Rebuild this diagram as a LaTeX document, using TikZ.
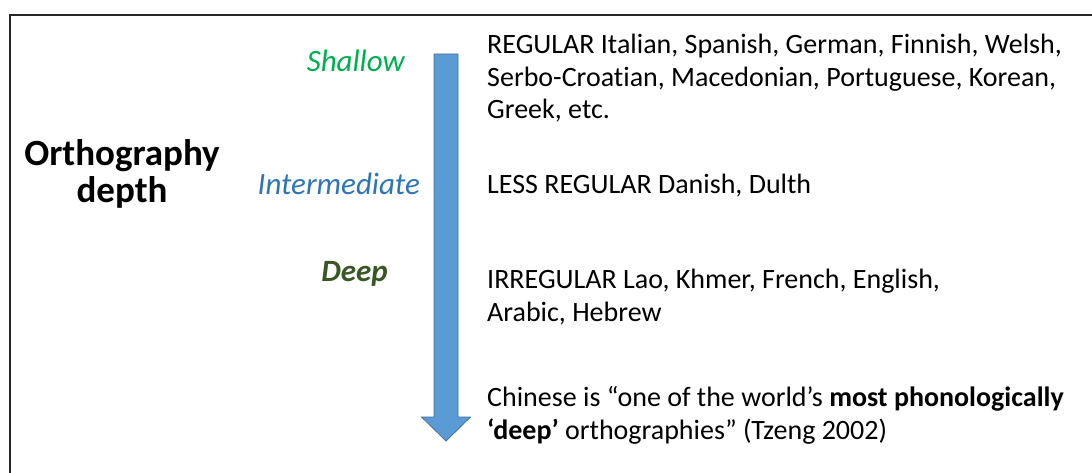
\documentclass[tikz,border=0pt]{standalone}
\usepackage{fontspec}
\setmainfont{Carlito}[RawFeature=-liga]
\definecolor{arrowfill}{HTML}{5B9BD5}
\definecolor{arrowedge}{HTML}{41719C}
\definecolor{shallowc}{HTML}{00B050}
\definecolor{interc}{HTML}{2E75B6}
\definecolor{deepc}{HTML}{385723}
\begin{document}
\begin{tikzpicture}[x=1pt,y=-1pt,
  body/.style={anchor=base west,inner sep=0pt,font=\fontsize{28}{33}\selectfont},
  level/.style={anchor=base east,inner sep=0pt,font=\fontsize{31}{37}\selectfont\itshape},
  heading/.style={anchor=base,inner sep=0pt,font=\fontsize{37}{44}\selectfont\bfseries}]
\useasboundingbox (0,0) rectangle (1092,473);
% frame
\coordinate (fb) at (10,480);
\coordinate (ftl) at (10,15);
\coordinate (fr) at (1100,15);
\draw[line width=2pt,black!85] (fb) -- (ftl) -- (fr);
% depth arrow
\fill[arrowfill,draw=arrowedge,line width=0.8pt]
  (434,54) -- (458,54) -- (458,417) -- (470.5,417) -- (446,441)
  -- (421.5,417) -- (434,417) -- cycle;
% axis title
\node[heading] (t1) at (122,166) {Orthography};
\node[heading] (t2) at (122,203) {depth};
% levels
\node[level,text=shallowc] (shallow) at (405,72) {Shallow};
\node[level,text=interc] (inter) at (420,195) {Intermediate};
\node[level,text=deepc,font=\fontsize{31}{37}\selectfont\bfseries\itshape] (deep) at (388,281) {Deep};
% descriptions
\node[body] (r1) at (487,54) {REGULAR Italian, Spanish, German, Finnish, Welsh,};
\node[body] (r2) at (487,87) {Serbo-Croatian, Macedonian, Portuguese, Korean,};
\node[body] (r3) at (487,119) {Greek, etc.};
\node[body] (l1) at (487,194) {LESS REGULAR Danish, Dulth};
\node[body] (i1) at (487,288) {IRREGULAR Lao, Khmer, French, English,};
\node[body] (i2) at (487,321) {Arabic, Hebrew};
\node[body] (c1) at (487,406) {Chinese is “one of the world’s \textbf{most phonologically}};
\node[body] (c2) at (487,439) {\textbf{‘deep’} orthographies” (Tzeng 2002)};
\end{tikzpicture}
\end{document}
